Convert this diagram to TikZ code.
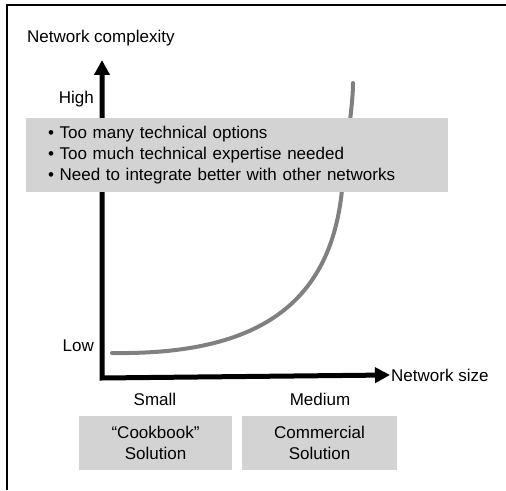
\documentclass[tikz,border=0pt]{standalone}
\usepackage{fontspec}
\setmainfont{Liberation Sans}
\usepackage{tikz}
\usetikzlibrary{arrows.meta}

\definecolor{boxgrey}{RGB}{211,211,211}
\definecolor{curvegrey}{RGB}{128,128,128}

\tikzset{
  axis/.style={line width=5pt, {Triangle[width=15pt,length=15pt]}-{Triangle[width=15pt,length=15pt]}},
  greybox/.style={fill=boxgrey, inner sep=0pt, align=center},
  lbl/.style={inner sep=1pt}
}

\begin{document}
\begin{tikzpicture}[x=1pt, y=1pt, font=\fontsize{17}{21}\selectfont]
      \useasboundingbox (0,0) rectangle (506,490);
      \draw[line width=2pt] (7,0) |- (506,485);

      \coordinate (O) at (102,112);
      \coordinate (YTop) at (102,430);

      \node[lbl, anchor=west] (Title) at (26,452) {Network complexity};
      \node[lbl, anchor=west] (XLab) at (390,115) {Network size};
      \node[lbl, anchor=east] (High) at (95,391) {High};
      \node[lbl, anchor=east] (Low) at (95,144) {Low};
      \node[lbl] (Small) at (155,91) {Small};
      \node[lbl] (Medium) at (320,91) {Medium};

      \draw[axis] (YTop) -- (O) -- (XLab.west);

      \draw[curvegrey, line width=4pt, line cap=round] (112,137) .. controls (250,135) and (330,180) .. (342,300)
        .. controls (347,350) and (353,385) .. (353,407);

      \node[greybox, minimum width=422pt, minimum height=74pt, text width=378pt, align=left] (Issues) at (237,335)
        {\textbullet\ Too many technical options\\
         \textbullet\ Too much technical expertise needed\\
         \textbullet\ Need to integrate better with other networks};

      \node[greybox, minimum width=153pt, minimum height=54pt] (Cook) at (155.5,47) {“Cookbook”\\Solution};
      \node[greybox, minimum width=155pt, minimum height=54pt] (Comm) at (319.5,47) {Commercial\\Solution};
    \end{tikzpicture}
\end{document}
